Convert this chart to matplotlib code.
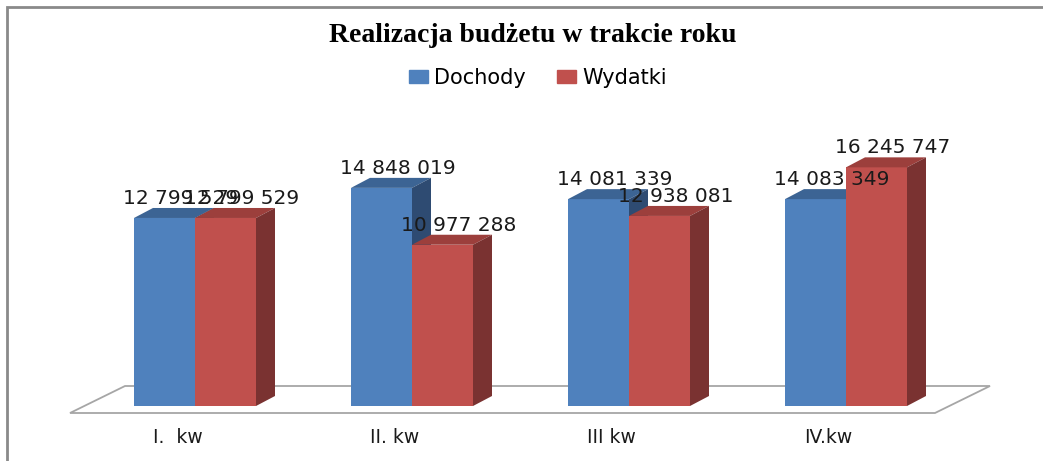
import matplotlib
matplotlib.use("Agg")
import matplotlib.pyplot as plt
from matplotlib.patches import Polygon, Rectangle

categories = ["I.  kw", "II. kw", "III kw", "IV.kw"]
dochody = [12799529, 14848019, 14081339, 14083349]
wydatki = [12799529, 10977288, 12938081, 16245747]
series_names = ["Dochody", "Wydatki"]

# face colours: front, top, side
BLUE = ("#4F81BD", "#3C6494", "#2E4B72")
RED = ("#C0504D", "#9C3F3C", "#7A3231")

W, H = 1043, 461
PX_CAT = 217.0       # pixels between groups
PX_VAL = 14.69e-6    # pixels per unit of value
X0, Y0 = 195, 406    # pixel position of (0, 0)

BAR_W = 61 / PX_CAT
DX = 19 / PX_CAT
DY = 10 / PX_VAL


def fmt(v):
    return f"{v:,}".replace(",", " ")


def draw_bar(ax, x, v, colors):
    front, top, side = colors
    ax.bar(x, v, width=BAR_W, align="edge", color=front, zorder=3)
    x1 = x + BAR_W
    ax.add_patch(Polygon([(x, v), (x + DX, v + DY), (x1 + DX, v + DY), (x1, v)],
                         closed=True, facecolor=top, edgecolor="none", zorder=3))
    ax.add_patch(Polygon([(x1, 0), (x1 + DX, DY), (x1 + DX, v + DY), (x1, v)],
                         closed=True, facecolor=side, edgecolor="none", zorder=3))
    ax.text(x + BAR_W / 2 + DX / 2 + 0.03, v + DY, fmt(v), ha="center",
            va="bottom", fontsize=14.5, color="#1a1a1a", zorder=5)


fig = plt.figure(figsize=(W / 100, H / 100), dpi=100)
ax = fig.add_axes([0, 0, 1, 1])
ax.set_xlim(-X0 / PX_CAT, (W - X0) / PX_CAT)
ax.set_ylim((Y0 - H) / PX_VAL, Y0 / PX_VAL)
ax.axis("off")

# floor
fl, fr = (70 - X0) / PX_CAT, (935 - X0) / PX_CAT
back = 55 / PX_CAT
y_front, y_back = -7 / PX_VAL, 20 / PX_VAL
ax.add_patch(Polygon([(fl, y_front), (fr, y_front), (fr + back, y_back), (fl + back, y_back)],
                     closed=True, facecolor="white", edgecolor="#a6a6a6", lw=1.3, zorder=1))

for i in range(len(categories)):
    draw_bar(ax, i - BAR_W, dochody[i], BLUE)
    draw_bar(ax, i, wydatki[i], RED)
    ax.text(i - 0.08, -31 / PX_VAL, categories[i], ha="center", va="center",
            fontsize=13.5, color="#1a1a1a")

# frame of the chart area (only left and top edges are in view)
fig.patches.append(Rectangle((7 / W, -0.1), 1.1, (H - 7) / H + 0.1,
                             transform=fig.transFigure, fill=False,
                             edgecolor="#8a8a8a", lw=2))

fig.text(533 / W, 1 - 35 / H, "Realizacja budżetu w trakcie roku",
         family="Liberation Serif", weight="bold", fontsize=20,
         ha="center", va="center")

handles = [Rectangle((0, 0), 1, 1, color=BLUE[0]), Rectangle((0, 0), 1, 1, color=RED[0])]
fig.legend(handles, series_names, loc="center", bbox_to_anchor=(538 / W, 1 - 78 / H),
           ncol=2, frameon=False, fontsize=15, handlelength=0.9, handleheight=0.6,
           handletextpad=0.3, columnspacing=1.5)

fig.savefig("out.png", dpi=100)
